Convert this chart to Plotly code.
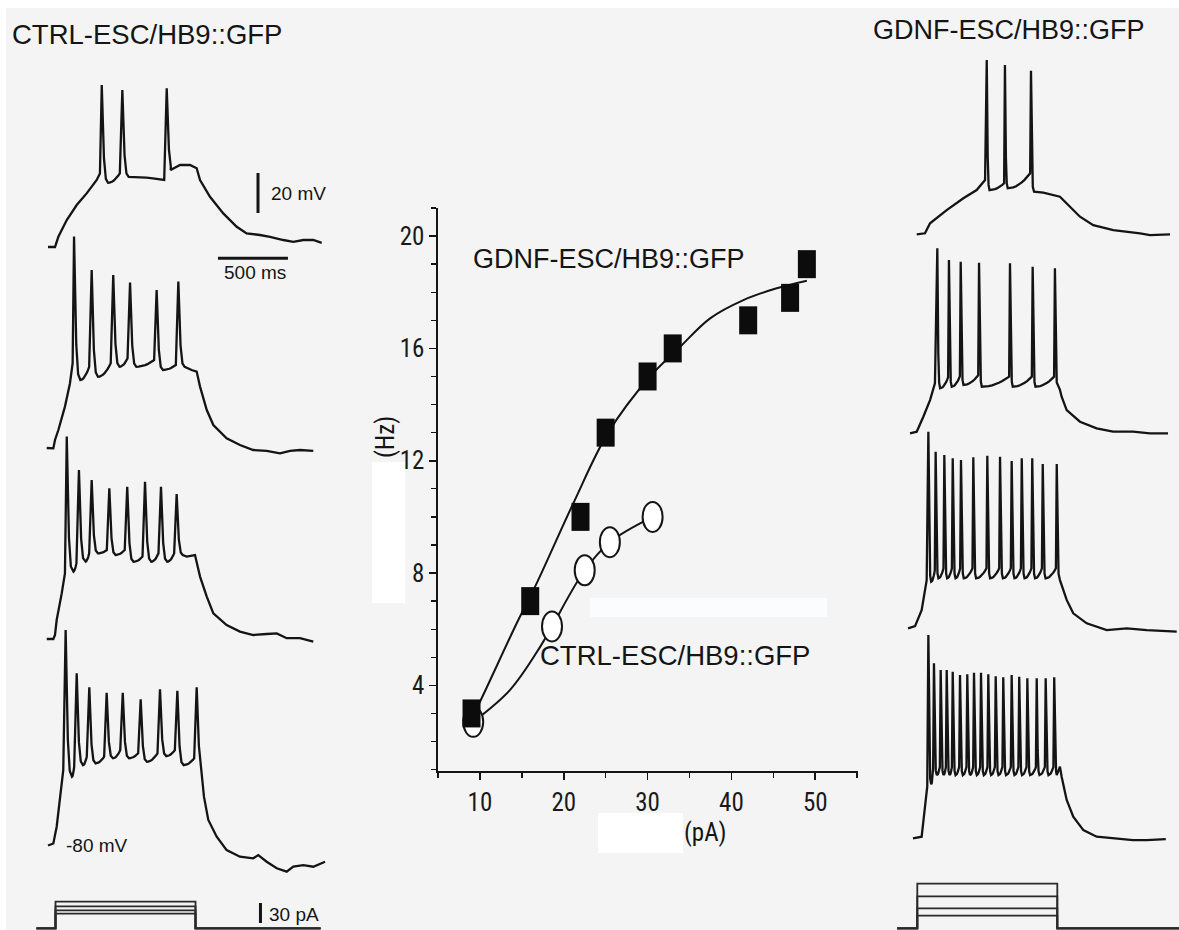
import numpy as np
import plotly.graph_objects as go

W, H = 1179, 930

# ---------------- F-I relationship (central chart) ----------------
GDNF_PA = [9, 16, 22, 25, 30, 33, 42, 47, 49]
GDNF_HZ = [3.0, 7.0, 10.0, 13.0, 15.0, 16.0, 17.0, 17.8, 19.0]
CTRL_PA = [9.2, 18.6, 22.5, 25.5, 30.6]
CTRL_HZ = [2.7, 6.1, 8.1, 9.1, 10.0]
GDNF_FIT_PA = [9.0, 9.62, 14.39, 16.78, 21.15, 25.3, 30.3, 33.7, 37.46, 41.43, 45.4, 49.0]
GDNF_FIT_HZ = [2.85, 3.18, 6.21, 7.64, 10.49, 13.0, 15.0, 16.0, 17.07, 17.72, 18.14, 18.41]
CTRL_FIT_PA = [9.2, 13.6, 17.2, 18.6, 22.5, 25.5, 30.6]
CTRL_FIT_HZ = [2.7, 3.84, 5.38, 6.1, 8.1, 9.1, 10.0]
X_RANGE = [5, 55.1]
Y_RANGE = [0.95, 21.0]

# ---------------- voltage traces (ms from step onset, mV) ----------------
# CTRL-ESC/HB9::GFP (left column)
L1_PRE_T = [-50, 0, 24, 84, 155, 226, 298, 321]
L1_PRE_V = [-80, -80, -74.9, -66.5, -59, -53.2, -46.5, -43.2]
L1_SP_T = [334, 481, 798]
L1_SP_PK = [1.0, -1.5, -0.6]
L1_SP_TR = [-47.9, -44.9, -41.5]
L1_THR = [-43.2, -46.5]
L1_POST_T = [826, 893, 964, 1012, 1036, 1107, 1202, 1298, 1369, 1464, 1536, 1631, 1702, 1774, 1845, 1905]
L1_POST_V = [-41.5, -39, -39, -40.6, -46.5, -54.9, -63.2, -69.9, -73.2, -74, -74.9, -76.5, -77.4, -76.5, -76.5, -77.9]

L2_PRE_T = [-59, -12, 0, 24, 71, 107, 126]
L2_PRE_V = [-80, -80.2, -76, -71, -59.3, -47.6, -37.6]
L2_SP_T = [136, 262, 416, 536, 726, 881]
L2_SP_PK = [25.7, 9.0, 6.5, 2.7, -1.0, 3.2]
L2_SP_TR = [-46, -44.4, -39.4, -39.4, -41, -39.4]
L2_THR = [-39.4, -37.6, -35.2, -36, -38.5]
L2_POST_T = [926, 976, 1012, 1036, 1084, 1131, 1226, 1321, 1416, 1512, 1607, 1679, 1750, 1845]
L2_POST_V = [-39.4, -41, -41.8, -49.3, -61, -68.5, -75.2, -78.5, -81, -81.4, -82.7, -81.4, -81, -81.4]

L3_PRE_T = [-59, -12, 0, 12, 48, 71]
L3_PRE_V = [-80, -80, -78, -70.5, -57.2, -47.2]
L3_SP_T = [84, 171, 262, 388, 516, 643, 757, 869]
L3_SP_PK = [21.2, 4.5, -0.5, -4.7, -3.9, -1.4, -3.9, -7.5]
L3_SP_TR = [-46.4, -41.4, -37.2, -38, -41.4, -41.4, -41.4, -38]
L3_THR = [-42.2, -37.2, -35.5, -35.5, -38.8, -37.2, -37.2]
L3_POST_T = [912, 941, 1000, 1036, 1084, 1131, 1226, 1321, 1416, 1512, 1584, 1655, 1750, 1845]
L3_POST_V = [-38, -38.8, -38, -48.8, -58.8, -67.2, -73, -76.3, -78, -77.5, -77.2, -79.6, -79.6, -81.3]

L4_PRE_T = [-50, -12, 12, 36, 59]
L4_PRE_V = [-80, -79, -70.6, -57.3, -42.3]
L4_SP_T = [76, 155, 245, 369, 484, 612, 750, 874, 1012]
L4_SP_PK = [27.75, 6.1, -0.9, -3.6, -3.6, -6.9, -1.9, -2.6, -0.9]
L4_SP_TR = [-45.6, -39.8, -38.9, -36.4, -36.4, -38.1, -35.3, -39.8, -40]
L4_THR = [-40.6, -35.6, -35.6, -32.3, -33.9, -33.9, -32.3, -36.4]
L4_POST_T = [1040, 1064, 1095, 1155, 1226, 1321, 1416, 1452, 1512, 1584, 1655, 1702, 1774, 1845, 1929]
L4_POST_V = [-40.3, -55.6, -67.2, -75.6, -82.3, -85.6, -86.4, -84.8, -88.1, -91.4, -93.1, -90.6, -89.8, -90.6, -88.1]

# GDNF-ESC/HB9::GFP (right column)
R1_PRE_T = [-4, 55, 91, 210, 329, 424, 484]
R1_PRE_V = [-80.5, -80, -75, -68.4, -62.5, -58.4, -53.4]
R1_SP_T = [496, 626, 812]
R1_SP_PK = [6.7, 4.2, 1.3]
R1_SP_TR = [-58.4, -57.5, -59.2]
R1_THR = [-55, -50]
R1_POST_T = [834, 900, 1019, 1067, 1162, 1257, 1400, 1591, 1662, 1805]
R1_POST_V = [-59.2, -59.7, -61.7, -65, -71.7, -75.9, -78.4, -80, -80.9, -80.5]

R2_PRE_T = [-52, -4, 43, 91, 126]
R2_PRE_V = [-80, -79.2, -71.7, -63.4, -55]
R2_SP_T = [143, 226, 310, 441, 662, 824, 983]
R2_SP_PK = [12.5, 6.7, 5.8, 5.3, 5.0, 3.3, 2.5]
R2_SP_TR = [-57.5, -56.7, -55.8, -56.7, -56.7, -56.7, -57]
R2_THR = [-52, -51.5, -51, -51.7, -51.7, -51.7]
R2_POST_T = [1019, 1031, 1067, 1162, 1281, 1398, 1541, 1662, 1791]
R2_POST_V = [-58.3, -61.7, -68.4, -74.2, -77.5, -79.2, -79.2, -80, -80]

R3_PRE_T = [-66, -16, 31, 67]
R3_PRE_V = [-80, -78.9, -70.9, -55.9]
R3_SP_T = [79, 131, 193, 253, 312, 400, 500, 591, 674, 746, 821, 896, 996]
R3_SP_PK = [18.3, 8.3, 6.7, 5.0, 4.2, 5.5, 6.3, 5.8, 3.7, 5.0, 5.0, 2.2, 2.2]
R3_SP_TR = [-56.7, -55, -55, -55, -55, -55, -55, -55, -55, -55, -55, -55, -55]
R3_THR = [-51, -50, -50, -50, -50, -50, -50, -50, -50, -50, -50, -50]
R3_POST_T = [1019, 1067, 1114, 1210, 1353, 1496, 1639, 1853]
R3_POST_V = [-55.9, -65.8, -72.5, -77.5, -80.9, -80, -80.9, -81.7]

R4_PRE_T = [-31, 31, 55, 71]
R4_PRE_V = [-80, -79.2, -64.2, -54.2]
R4_SP_T = [79, 119, 167, 210, 253, 305, 357, 405, 455, 507, 560, 614, 674, 728, 786, 853, 917, 978]
R4_SP_PK = [21.6, 7.5, 4.2, 4.2, 3.3, 1.6, 2.0, 2.8, 2.8, 2.0, 1.0, 0.5, 1.6, 0.8, 0.0, 0.0, 0.0, 0.5]
R4_SP_TR = [-53, -48.4, -48.4, -48.4, -48.4, -48.4, -48.4, -48.4, -48.4, -48.4, -48.4, -48.4, -48.4, -48.4, -48.4, -48.4, -48.4, -48.4]
R4_THR = [-45, -44.4, -44.4, -44.4, -44.4, -44.4, -44.4, -44.4, -44.4, -44.4, -44.4, -44.4, -44.4, -44.4, -44.4, -44.4, -44.4]
R4_POST_T = [996, 1019, 1031, 1067, 1114, 1186, 1281, 1398, 1541, 1639, 1775]
R4_POST_V = [-48.4, -44.2, -49.2, -60.8, -69.2, -75.9, -79.2, -79.8, -80.9, -80.9, -80.4]

# current steps (pA), 1000 ms long
STEP_MS = 1000
STIM_L_PA = [22, 27, 33, 40]
STIM_R_PA = [19, 30, 48, 67]

# scale bars
BAR_MV, BAR_MS, BAR_PA = 20, 500, 30

# ---------------- layout constants (pixels) ----------------
MS_PER_PX = 1000 / 140.0
MV_PER_PX = 0.5
PA_PER_PX = 1.5
LEFT_ONSET, RIGHT_ONSET = 55.0, 917.3
INK = "#141414"
BG = "#f4f4f4"
NARROW = "Liberation Sans Narrow, Roboto Condensed, DejaVu Sans Condensed, Liberation Sans, Arial"
SANS = "Liberation Sans, Arial, Helvetica, sans-serif"


def build_trace(pre_t, pre_v, sp_t, sp_pk, sp_tr, thr, post_t, post_v, rise, fall):
    t = list(pre_t)
    v = list(pre_v)
    n = len(sp_t)
    for i in range(n):
        t.append(sp_t[i]); v.append(sp_pk[i])
        t.append(sp_t[i] + 0.35 * fall); v.append(sp_tr[i] + 0.25 * (sp_pk[i] - sp_tr[i]))
        t.append(sp_t[i] + 0.65 * fall); v.append(sp_tr[i] + 0.04 * (sp_pk[i] - sp_tr[i]))
        if i < n - 1:
            a = sp_t[i] + fall
            b = sp_t[i + 1] - rise
            for u in np.linspace(0, 1, 9):
                t.append(a + u * (b - a))
                v.append(sp_tr[i] + (thr[i] - sp_tr[i]) * u ** 2)
    t += list(post_t)
    v += list(post_v)
    return t, v


fig = go.Figure()
axes = {}
k_counter = [1]


def new_axes(onset_px, base_px, per_px_y, base_val):
    k_counter[0] += 1
    k = k_counter[0]
    axes[f"xaxis{k}"] = dict(domain=[0, 1], anchor=f"y{k}", visible=False, fixedrange=True,
                            range=[(0 - onset_px) * MS_PER_PX, (W - onset_px) * MS_PER_PX])
    axes[f"yaxis{k}"] = dict(domain=[0, 1], anchor=f"x{k}", visible=False, fixedrange=True,
                            range=[base_val - (H - base_px) * per_px_y, base_val + base_px * per_px_y])
    return f"x{k}", f"y{k}"


panels = [
    (LEFT_ONSET, 247.0, L1_PRE_T, L1_PRE_V, L1_SP_T, L1_SP_PK, L1_SP_TR, L1_THR, L1_POST_T, L1_POST_V, 18, 45),
    (LEFT_ONSET, 448.0, L2_PRE_T, L2_PRE_V, L2_SP_T, L2_SP_PK, L2_SP_TR, L2_THR, L2_POST_T, L2_POST_V, 18, 45),
    (LEFT_ONSET, 639.0, L3_PRE_T, L3_PRE_V, L3_SP_T, L3_SP_PK, L3_SP_TR, L3_THR, L3_POST_T, L3_POST_V, 18, 45),
    (LEFT_ONSET, 845.5, L4_PRE_T, L4_PRE_V, L4_SP_T, L4_SP_PK, L4_SP_TR, L4_THR, L4_POST_T, L4_POST_V, 18, 45),
    (RIGHT_ONSET, 233.3, R1_PRE_T, R1_PRE_V, R1_SP_T, R1_SP_PK, R1_SP_TR, R1_THR, R1_POST_T, R1_POST_V, 6, 20),
    (RIGHT_ONSET, 433.3, R2_PRE_T, R2_PRE_V, R2_SP_T, R2_SP_PK, R2_SP_TR, R2_THR, R2_POST_T, R2_POST_V, 6, 20),
    (RIGHT_ONSET, 628.3, R3_PRE_T, R3_PRE_V, R3_SP_T, R3_SP_PK, R3_SP_TR, R3_THR, R3_POST_T, R3_POST_V, 6, 20),
    (RIGHT_ONSET, 838.3, R4_PRE_T, R4_PRE_V, R4_SP_T, R4_SP_PK, R4_SP_TR, R4_THR, R4_POST_T, R4_POST_V, 6, 20),
]

first_axes = None
for (onset, base, pt, pv, st, spk, stt, thr, qt, qv, rise, fall) in panels:
    xa, ya = new_axes(onset, base, MV_PER_PX, -80.0)
    if first_axes is None:
        first_axes = (xa, ya)
    tt, vv = build_trace(pt, pv, st, spk, stt, thr, qt, qv, rise, fall)
    fig.add_trace(go.Scatter(x=tt, y=vv, mode="lines", xaxis=xa, yaxis=ya,
                             line=dict(color=INK, width=2.3), hoverinfo="skip", showlegend=False))

# scale bars on first CTRL trace axes
xa, ya = first_axes
fig.add_trace(go.Scatter(x=[1450, 1450], y=[-63, -63 + BAR_MV], mode="lines", xaxis=xa, yaxis=ya,
                         line=dict(color=INK, width=3), hoverinfo="skip", showlegend=False))
fig.add_trace(go.Scatter(x=[1164, 1164 + BAR_MS], y=[-85.6, -85.6], mode="lines", xaxis=xa, yaxis=ya,
                         line=dict(color=INK, width=3), hoverinfo="skip", showlegend=False))

# current-step protocols
for onset, levels, t0, t1, base in [(LEFT_ONSET + 0.5, STIM_L_PA, -136, 1893, 928.3),
                                     (RIGHT_ONSET, STIM_R_PA, -145, 1900, 928.3)]:
    xa, ya = new_axes(onset, base, PA_PER_PX, 0.0)
    for lev in levels:
        fig.add_trace(go.Scatter(x=[t0, 0, 0, STEP_MS, STEP_MS, t1], y=[0, 0, lev, lev, 0, 0],
                                 mode="lines", xaxis=xa, yaxis=ya, line=dict(color="#2a2a2a", width=1.8),
                                 hoverinfo="skip", showlegend=False))
    if onset < 500:
        fig.add_trace(go.Scatter(x=[1464, 1464], y=[8, 8 + BAR_PA], mode="lines", xaxis=xa, yaxis=ya,
                                 line=dict(color=INK, width=3), hoverinfo="skip", showlegend=False))

# central F-I chart lines
fig.add_trace(go.Scatter(x=GDNF_FIT_PA, y=GDNF_FIT_HZ, mode="lines", line=dict(color=INK, width=2, shape="spline"),
                         hoverinfo="skip", showlegend=False))
fig.add_trace(go.Scatter(x=CTRL_FIT_PA, y=CTRL_FIT_HZ, mode="lines", line=dict(color=INK, width=2, shape="spline"),
                         hoverinfo="skip", showlegend=False))


def px(x, y):
    return x / W, 1 - y / H


shapes = []
# background panel (thin white border at top/left as in the scan)
shapes.append(dict(type="rect", xref="paper", yref="paper", x0=6 / W, x1=1, y0=0, y1=1 - 8 / H,
                   fillcolor=BG, line=dict(width=0), layer="below"))
# pale patches in the scan
for (x0, y0, x1, y1, c) in [(372, 462, 405, 603, "#ffffff"), (590, 598, 827, 617, "#fafcfe"),
                            (598, 813, 683, 853, "#ffffff")]:
    a0, b0 = px(x0, y1)
    a1, b1 = px(x1, y0)
    shapes.append(dict(type="rect", xref="paper", yref="paper", x0=a0, x1=a1, y0=b0, y1=b1,
                       fillcolor=c, line=dict(width=0), layer="below"))
# CTRL markers: open ellipses
for xv, yv in zip(CTRL_PA, CTRL_HZ):
    shapes.append(dict(type="circle", xref="x", yref="y", xsizemode="pixel", ysizemode="pixel",
                       xanchor=xv, yanchor=yv, x0=-10, x1=10, y0=-15, y1=15,
                       fillcolor="white", line=dict(color=INK, width=2), layer="above"))
# GDNF markers: filled rectangles
for xv, yv in zip(GDNF_PA, GDNF_HZ):
    shapes.append(dict(type="rect", xref="x", yref="y", xsizemode="pixel", ysizemode="pixel",
                       xanchor=xv, yanchor=yv, x0=-9, x1=9, y0=-14, y1=14,
                       fillcolor="#0c0c0c", line=dict(width=0), layer="above"))

annotations = []


def label(text, x, y, size, xanchor="left", font=SANS, angle=0):
    ax, ay = px(x, y)
    annotations.append(dict(text=text, x=ax, y=ay, xref="paper", yref="paper", xanchor=xanchor,
                            yanchor="middle", showarrow=False, textangle=angle,
                            font=dict(family=font, size=size, color="#151515")))


label("CTRL-ESC/HB9::GFP", 10, 35, 27.5)
label("GDNF-ESC/HB9::GFP", 871, 30, 27)
label("20 mV", 269, 193, 19)
label("500 ms", 255, 272, 19, xanchor="center")
label("-80 mV", 64, 845, 19)
label("30 pA", 267, 914, 19)
label("GDNF-ESC/HB9::GFP", 471, 259, 27)
label("CTRL-ESC/HB9::GFP", 538, 655, 27.5)
label("(Hz)", 385, 437, 25, xanchor="center", font=NARROW, angle=-90)
label("(pA)", 705, 832, 25, xanchor="center", font=NARROW)

fig.update_layout(
    width=W, height=H, margin=dict(l=0, r=0, t=0, b=0),
    paper_bgcolor="white", plot_bgcolor="rgba(0,0,0,0)",
    shapes=shapes, annotations=annotations, showlegend=False,
    xaxis=dict(domain=[438 / W, 858 / W], range=X_RANGE, showline=True, linecolor=INK, linewidth=1.6,
               showgrid=False, zeroline=False, ticks="outside", tick0=0, dtick=10, ticklen=7, tickwidth=1.6,
               tickcolor=INK, tickfont=dict(family=NARROW, size=25, color="#1a1a1a"), ticklabelstandoff=1,
               minor=dict(ticks="outside", tick0=0, dtick=5, ticklen=5, tickwidth=1.4, tickcolor=INK),
               fixedrange=True, anchor="y"),
    yaxis=dict(domain=[(H - 771) / H, (H - 208) / H], range=Y_RANGE, showline=True, linecolor=INK,
               linewidth=1.6, showgrid=False, zeroline=False, ticks="outside", tick0=0, dtick=4, ticklen=7,
               tickwidth=1.6, tickcolor=INK, tickfont=dict(family=NARROW, size=25, color="#1a1a1a"),
               ticklabelstandoff=0,
               minor=dict(ticks="outside", tick0=0, dtick=1, ticklen=5, tickwidth=1.4, tickcolor=INK),
               fixedrange=True, anchor="x"),
    **axes,
)

fig.write_html("out.html", config={"displayModeBar": False, "staticPlot": True},
               post_script="document.body.style.margin='0';document.body.style.overflow='hidden';")
